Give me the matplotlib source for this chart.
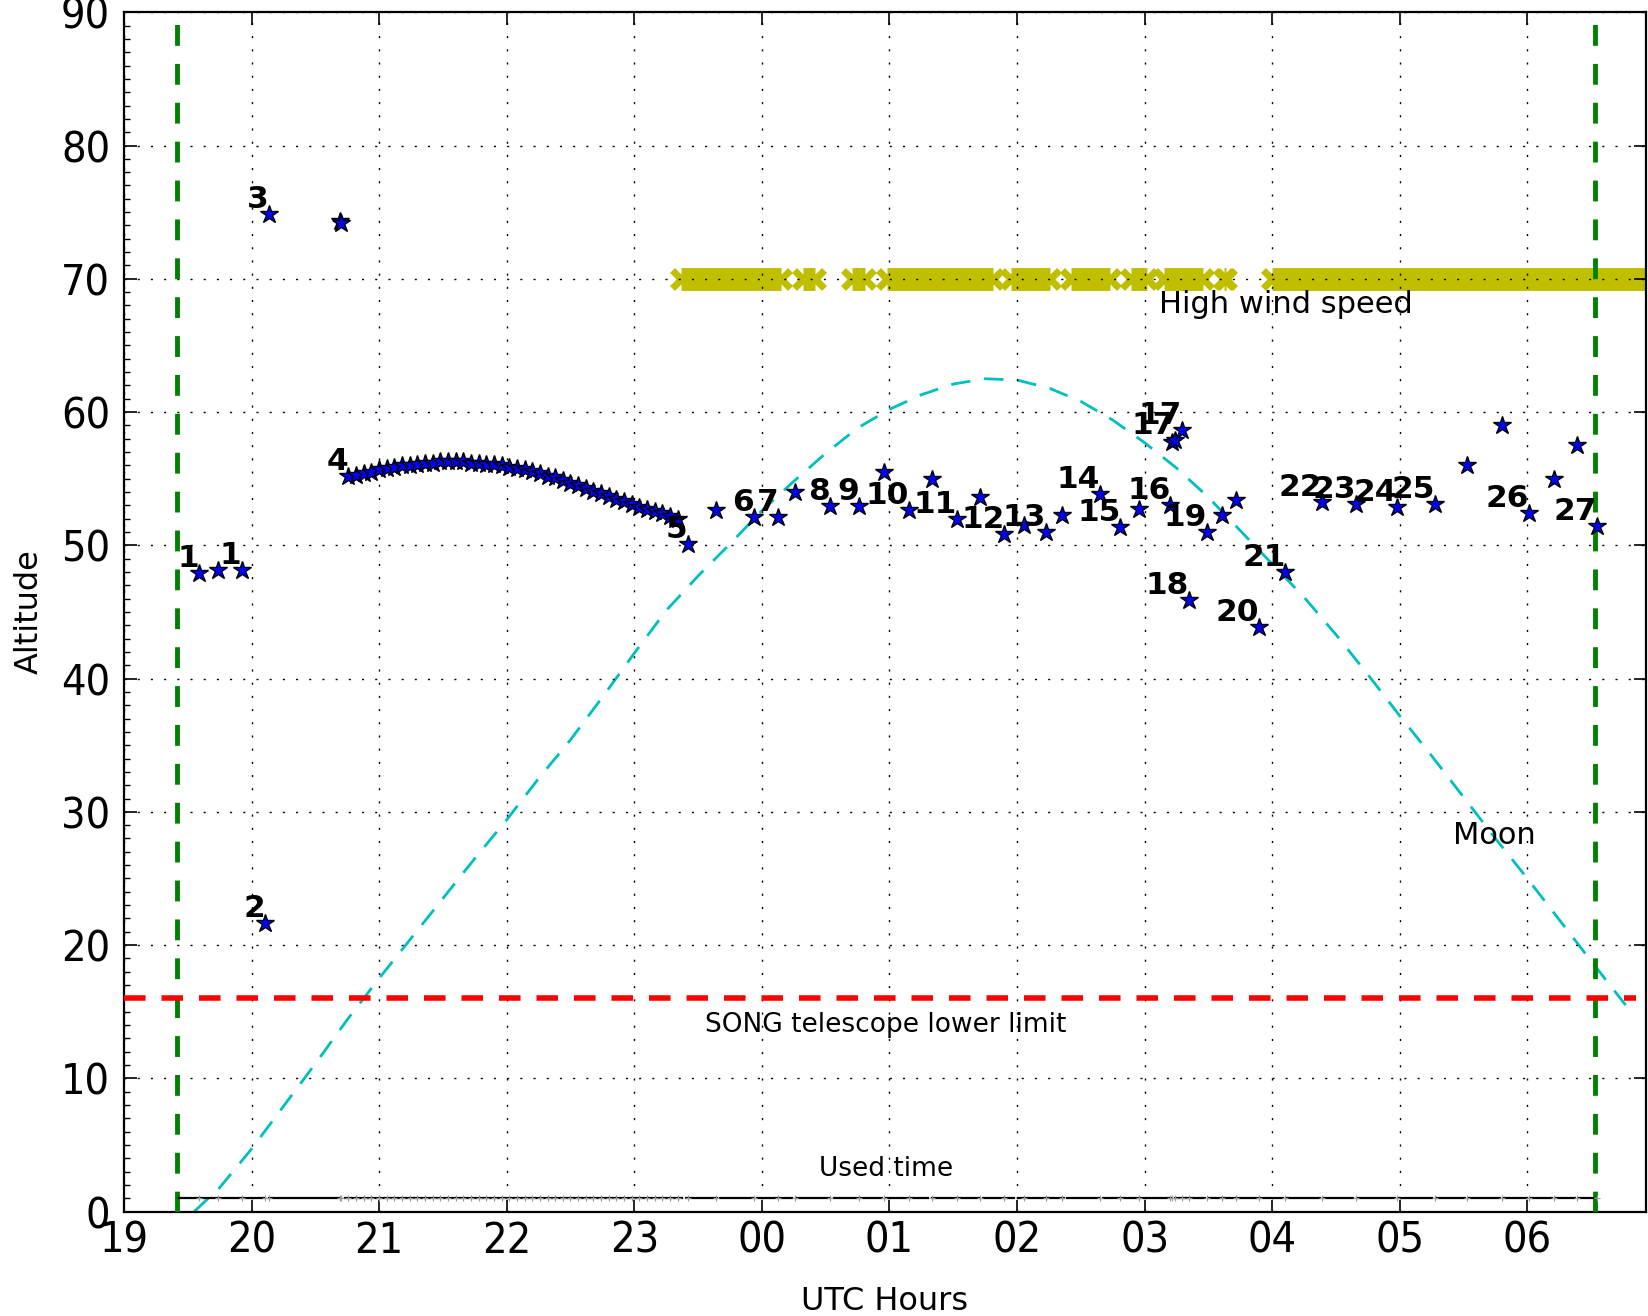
import matplotlib
matplotlib.use('Agg')
import matplotlib.pyplot as plt
from matplotlib.ticker import MultipleLocator

plt.rcParams['lines.scale_dashes'] = False

# night limits (UTC hours, after midnight = 24+)
sunset = 19.415
sunrise = 30.53
lower_limit = 16
red_line_end = 30.85

# observed targets: time, altitude, label
obs_hours = [19.592, 19.736, 19.922, 20.104, 20.138, 20.690, 20.700,
             23.418, 23.642, 23.935, 24.130, 24.260, 24.536, 24.763, 24.958,
             25.154, 25.332, 25.528, 25.706, 25.901, 26.054, 26.226, 26.356,
             26.648, 26.811, 26.958, 27.201, 27.214, 27.240, 27.295, 27.350,
             27.488, 27.610, 27.720, 27.898, 28.104, 28.392, 28.653, 28.976,
             29.274, 29.529, 29.798, 30.009, 30.209, 30.392, 30.543]
obs_alt = [47.93, 48.13, 48.13, 21.69, 74.84, 74.35, 74.20,
           50.13, 52.63, 52.13, 52.13, 54.0, 52.95, 52.95, 55.5,
           52.63, 55.0, 52.0, 53.63, 50.88, 51.5, 51.0, 52.25,
           53.88, 51.38, 52.75, 53.0, 57.75, 57.88, 58.63, 45.88,
           51.0, 52.25, 53.38, 43.87, 48.0, 53.25, 53.13, 52.88,
           53.13, 56.0, 59.0, 52.45, 54.96, 57.5, 51.45]
obs_labels = ['1', '', '1', '2', '3', '', '',
              '5', '', '6', '7', '', '8', '9', '',
              '10', '', '11', '', '12', '', '13', '',
              '14', '15', '', '16', '', '17', '17', '18',
              '19', '', '', '20', '21', '22', '23', '24',
              '25', '', '', '26', '', '', '27']

# target 4: long series of short exposures
t4_hours = [20.76, 20.82, 20.88, 20.94, 21.00, 21.06, 21.12, 21.18, 21.24, 21.30,
            21.36, 21.42, 21.48, 21.54, 21.60, 21.66, 21.72, 21.78, 21.84, 21.90,
            21.96, 22.02, 22.08, 22.14, 22.20, 22.26, 22.32, 22.38, 22.44, 22.50,
            22.56, 22.62, 22.68, 22.74, 22.80, 22.86, 22.92, 22.98, 23.04, 23.10,
            23.16, 23.22, 23.28, 23.34]
t4_alt = [55.2, 55.3, 55.4, 55.5, 55.7, 55.8, 55.9, 56.0, 56.0, 56.1,
          56.2, 56.2, 56.3, 56.3, 56.3, 56.3, 56.2, 56.2, 56.1, 56.1,
          56.0, 55.9, 55.8, 55.7, 55.6, 55.4, 55.2, 55.1, 54.9, 54.7,
          54.5, 54.3, 54.1, 53.9, 53.7, 53.5, 53.3, 53.1, 52.9, 52.7,
          52.6, 52.4, 52.2, 52.0]

# moon altitude
moon_hours = [19.55, 19.75, 20.0, 20.25, 20.5, 20.75, 21.0, 21.25, 21.5, 21.75,
              22.0, 22.25, 22.5, 22.75, 23.0, 23.25, 23.5, 23.75, 24.0, 24.25,
              24.5, 24.75, 25.0, 25.25, 25.5, 25.75, 26.0, 26.25, 26.5, 26.75,
              27.0, 27.25, 27.5, 27.75, 28.0, 28.25, 28.5, 28.75, 29.0, 29.25,
              29.5, 29.75, 30.0, 30.25, 30.5, 30.77]
moon_alt = [0.0, 1.8, 4.7, 7.9, 11.1, 14.4, 17.5, 20.5, 23.5, 26.5,
            29.4, 32.5, 35.4, 38.6, 41.9, 45.1, 47.7, 50.1, 52.6, 54.8,
            56.9, 58.8, 60.2, 61.3, 62.1, 62.5, 62.4, 61.8, 60.8, 59.4,
            57.7, 55.8, 53.6, 51.1, 48.6, 46.1, 43.3, 40.3, 37.2, 34.2,
            31.1, 28.0, 25.0, 21.9, 18.8, 15.5]

# periods with high wind speed
wind_start = [23.37, 24.32, 24.71, 24.98, 25.95, 26.425, 26.895, 27.15, 27.625, 28.0]
wind_end = [24.15, 24.42, 24.81, 25.81, 26.255, 26.725, 27.02, 27.455, 27.64, 31.0]
wind_alt = 70

# used time blocks
used_breaks = [sunset, 20.12, 20.715, 23.39, 23.66, 23.95, 24.255, 24.55, 24.96,
               25.32, 25.72, 25.995, 26.38, 26.66, 26.96, 27.22, 27.49, 27.72,
               27.90, 28.10, 28.39, 28.65, 28.98, 29.27, 29.53, 29.80, 30.01,
               30.21, 30.39, sunrise]

tick_hours = [19, 20, 21, 22, 23, 24, 25, 26, 27, 28, 29, 30]
tick_labels = ['19', '20', '21', '22', '23', '00', '01', '02', '03', '04', '05', '06']
alt_ticks = [0, 10, 20, 30, 40, 50, 60, 70, 80, 90]

fig = plt.figure(figsize=(16.48, 13.16), dpi=100)
ax = fig.add_axes([0.0752, 0.0793, 0.9236, 0.9114])

# night limits
ax.plot([sunset, sunset], [0, 90], color='g', lw=3.5, dashes=(15, 13), zorder=3)
ax.plot([sunrise, sunrise], [0, 90], color='g', lw=3.5, dashes=(15, 13), zorder=3)

# telescope limit
ax.plot([19.0, red_line_end], [lower_limit, lower_limit], color='r', lw=4,
        dashes=(15.5, 11.5), zorder=3)
ax.text(24.97, 14.0, 'SONG telescope lower limit', ha='center', va='center', fontsize=19)

# moon
ax.plot(moon_hours, moon_alt, color='c', lw=2.0, dashes=(14, 10), zorder=2)
ax.text(29.745, 28.2, 'Moon', ha='center', va='center', fontsize=22)

# wind
for s, e in zip(wind_start, wind_end):
    ax.plot([s, e], [wind_alt, wind_alt], color='y', lw=16.5,
            solid_capstyle='butt', zorder=1.8)
    ax.plot([s, e], [wind_alt, wind_alt], 'x', color='y', ms=12.5, mew=5, zorder=1.8)
ax.text(28.11, 68.05, 'High wind speed', ha='center', va='center', fontsize=22)

# used time
for a, b in zip(used_breaks[:-1], used_breaks[1:]):
    ax.plot([a + 0.015, b - 0.015], [1, 1], color='k', lw=1.6, zorder=3)
ax.plot(obs_hours + t4_hours, [1] * (len(obs_hours) + len(t4_hours)), '+',
        color='0.6', ms=5, mew=0.8, zorder=3)
ax.text(24.975, 3.2, 'Used time', ha='center', va='center', fontsize=19)

# observations
ax.plot(t4_hours, t4_alt, '*', color='b', mec='k', ms=13.5, mew=1, zorder=4)
ax.text(t4_hours[0], t4_alt[0], '4', ha='right', va='bottom',
        fontsize=22.5, fontweight='bold', zorder=5)
ax.plot(obs_hours, obs_alt, '*', color='b', mec='k', ms=13.5, mew=1, zorder=4)
for h, a, lab in zip(obs_hours, obs_alt, obs_labels):
    if lab:
        ax.text(h, a, lab, ha='right', va='bottom', fontsize=22.5,
                fontweight='bold', zorder=5)

ax.set_xlim(19, 30.93)
ax.set_ylim(0, 90)
ax.set_xticks(tick_hours, tick_labels, fontsize=31, fontstretch='condensed')
ax.set_yticks(alt_ticks, [str(v) for v in alt_ticks], fontsize=31,
              fontstretch='condensed')
ax.yaxis.set_minor_locator(MultipleLocator(1))

ax.set_axisbelow(False)
ax.grid(True, color='k', linestyle=(0, (1.5, 8)), linewidth=1.0)
ax.tick_params(which='major', direction='in', top=True, right=True,
               length=9, width=1.2)
ax.tick_params(axis='x', which='major', pad=6)
ax.tick_params(axis='y', which='major', pad=10)
ax.tick_params(which='minor', direction='in', left=True, right=False,
               length=4, width=1)
for sp in ax.spines.values():
    sp.set_linewidth(1.6)

ax.set_xlabel('UTC Hours', fontsize=23)
ax.set_ylabel('Altitude', fontsize=23)
ax.xaxis.set_label_coords(0.5, -0.062)
ax.yaxis.set_label_coords(-0.052, 0.5)

fig.savefig('out.png', dpi=100)
